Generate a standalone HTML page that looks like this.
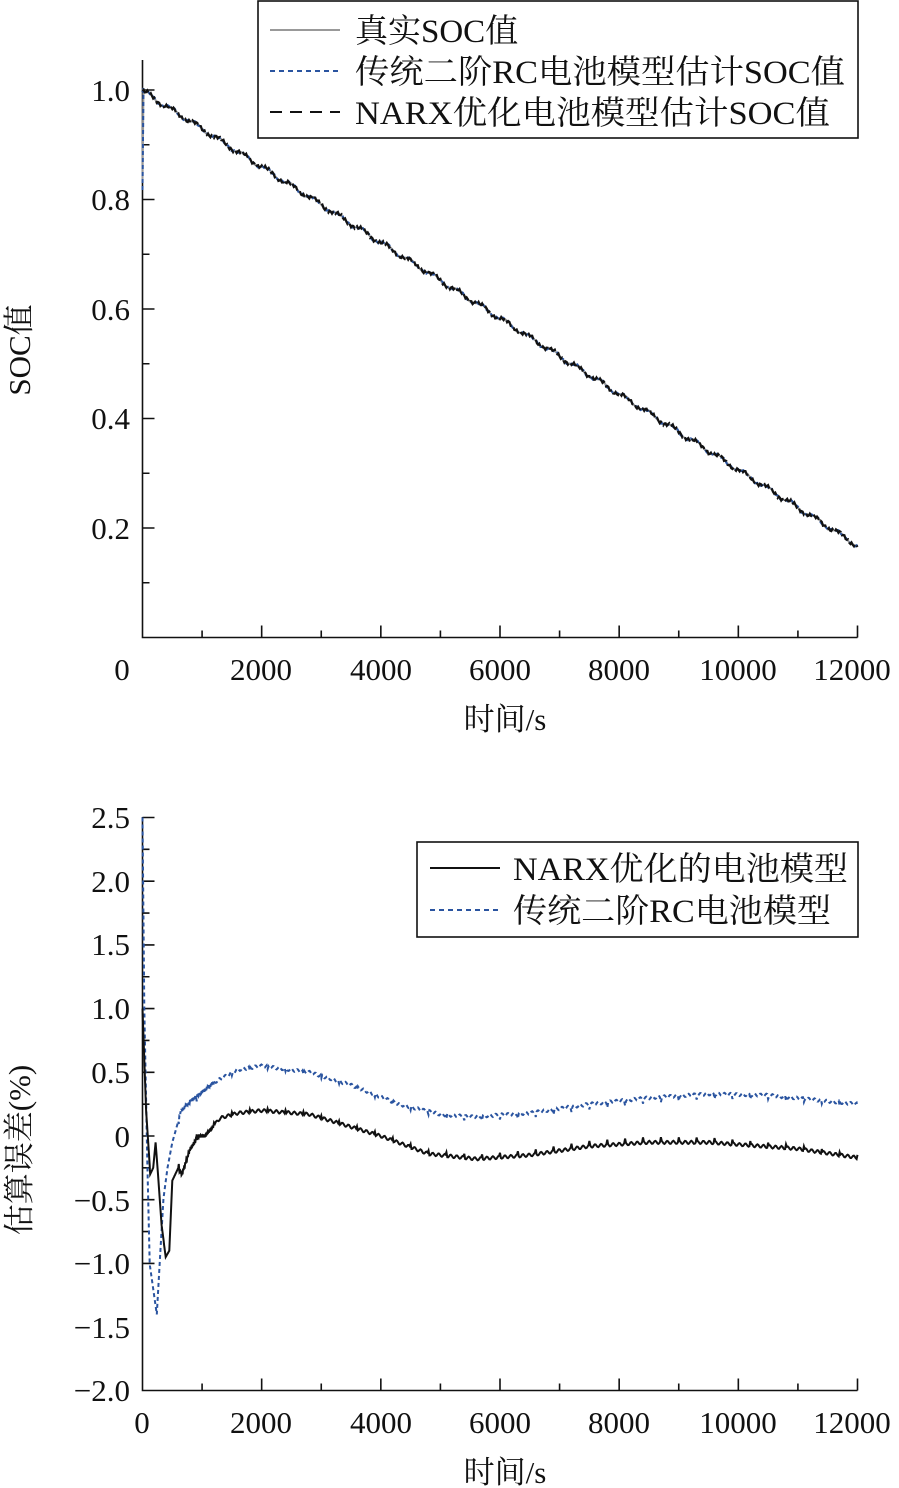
<!DOCTYPE html>
<html><head><meta charset="utf-8"><style>
html,body{margin:0;padding:0;background:#fff;}
svg{display:block;font-family:"Liberation Serif","Noto Serif CJK SC","Noto Sans CJK SC",serif;}
</style></head><body>
<svg id="s" width="899" height="1488" viewBox="0 0 899 1488" xmlns="http://www.w3.org/2000/svg">
<g font-size="31" fill="#111" text-anchor="end">
<text x="130" y="101">1.0</text><text x="130" y="210">0.8</text><text x="130" y="320">0.6</text><text x="130" y="429">0.4</text><text x="130" y="539">0.2</text>
<text x="130" y="828">2.5</text><text x="130" y="892">2.0</text><text x="130" y="955">1.5</text><text x="130" y="1019">1.0</text><text x="130" y="1083">0.5</text><text x="130" y="1147">0</text><text x="130" y="1274">−1.0</text><text x="130" y="1211">−0.5</text><text x="130" y="1338">−1.5</text><text x="130" y="1401">−2.0</text>
</g>
<g font-size="31" fill="#111" text-anchor="middle">
<text x="122" y="680">0</text><text x="261" y="680">2000</text><text x="381" y="680">4000</text><text x="500" y="680">6000</text><text x="619" y="680">8000</text><text x="738" y="680">10000</text><text x="852" y="680">12000</text>
<text x="505" y="730">时间/s</text>
<text x="142" y="1433">0</text><text x="261" y="1433">2000</text><text x="381" y="1433">4000</text><text x="500" y="1433">6000</text><text x="619" y="1433">8000</text><text x="738" y="1433">10000</text><text x="852" y="1433">12000</text>
<text x="505" y="1483">时间/s</text>
<text transform="translate(30,350) rotate(-90)">SOC值</text>
<text transform="translate(30,1150) rotate(-90)">估算误差(%)</text>
</g>
<g id="axes" stroke="#111" stroke-width="1.6" fill="none"></g>
<g id="curves" fill="none"></g>
<g>
<rect x="258" y="1" width="600" height="137" fill="#fff" stroke="#111" stroke-width="1.6"/>
<line x1="270" y1="30" x2="340" y2="30" stroke="#999" stroke-width="2"/>
<line x1="270" y1="71" x2="340" y2="71" stroke="#2a54a0" stroke-width="2" stroke-dasharray="5,4"/>
<line x1="270" y1="112" x2="340" y2="112" stroke="#111" stroke-width="2" stroke-dasharray="12,8"/>
<g font-size="33" fill="#111"><text x="355" y="42">真实SOC值</text><text x="355" y="83" textLength="490" lengthAdjust="spacingAndGlyphs">传统二阶RC电池模型估计SOC值</text><text x="355" y="124" textLength="475" lengthAdjust="spacingAndGlyphs">NARX优化电池模型估计SOC值</text></g>
<rect x="417" y="842" width="441" height="95" fill="#fff" stroke="#111" stroke-width="1.6"/>
<line x1="430" y1="868" x2="500" y2="868" stroke="#111" stroke-width="2"/>
<line x1="430" y1="910" x2="500" y2="910" stroke="#2a54a0" stroke-width="2" stroke-dasharray="5,4"/>
<g font-size="33" fill="#111"><text x="513" y="880" textLength="335" lengthAdjust="spacingAndGlyphs">NARX优化的电池模型</text><text x="513" y="922" textLength="318" lengthAdjust="spacingAndGlyphs">传统二阶RC电池模型</text></g>
</g>
</svg>
<script>
var X=function(t){return 142.5+t*715/12000;};
var ax=document.getElementById('axes'),cv=document.getElementById('curves');
function P(d,attrs,par){var e=document.createElementNS('http://www.w3.org/2000/svg','path');e.setAttribute('d',d);for(var k in attrs)e.setAttribute(k,attrs[k]);(par||cv).appendChild(e);}
var d='';
d+='M142.5,60V637.5H857.5';
for(var i=0;i<=12;i++){var x=X(i*1000),L=i%2?7:12;d+='M'+x+',637.5V'+(637.5-L);}
for(var v=0.1;v<=1.05;v+=0.1){var y=90+(1-v)*547.5,L=(Math.round(v*10)%2)?7:12;d+='M142.5,'+y+'H'+(142.5+L);}
d+='M142.5,817V1390.5H857.5';
for(var i=0;i<=12;i++){var x=X(i*1000),L=i%2?7:12;d+='M'+x+',1390.5V'+(1390.5-L);}
for(var k=-4;k<=10;k++){var v=k*0.25,y=1136-v*127.4,L=(k%2)?7:12;d+='M142.5,'+y+'H'+(142.5+L);}
P(d,{},ax);
function soc(t){var base=1-0.83*t/12000;var ph=(t%400)/400;return base+0.004*Math.sin(ph*2*Math.PI)-0.002;}
var g='',b='',k2='';
for(var t=0;t<=12000;t+=20){var y=90+(1-soc(t))*547.5;var x=X(t);
 g+=(t?'L':'M')+x.toFixed(1)+','+y.toFixed(1);
 b+=(t?'L':'M')+x.toFixed(1)+','+(y+Math.sin(t*0.37)*1.2).toFixed(1);
 k2+=(t?'L':'M')+x.toFixed(1)+','+(y+Math.sin(t*0.53)*1.5).toFixed(1);}
g='M142.5,180L143.5,88'+g.replace('M','L');
P(g,{stroke:'#999','stroke-width':2});
P('M142.5,190L143.5,88'+b.replace('M','L'),{stroke:'#2a54a0','stroke-width':2,'stroke-dasharray':'4,3'});
P(k2,{stroke:'#111','stroke-width':2.2,'stroke-dasharray':'10,3'});
function interp(pts,t){for(var i=1;i<pts.length;i++){if(t<=pts[i][0]){var a=pts[i-1],c=pts[i];return a[1]+(c[1]-a[1])*(t-a[0])/(c[0]-a[0]);}}return pts[pts.length-1][1];}
var blk=[[0,1.0],[60,0.2],[130,-0.3],[180,-0.25],[220,-0.05],[260,-0.3],[320,-0.7],[390,-0.95],[450,-0.9],[500,-0.35],[600,-0.25],[660,-0.3],[800,-0.1],[950,0],[1050,0],[1300,0.14],[1600,0.18],[2000,0.2],[2800,0.17],[3300,0.1],[4000,0],[4800,-0.14],[5600,-0.18],[6500,-0.15],[7500,-0.08],[8500,-0.05],[9500,-0.05],[11000,-0.1],[12000,-0.17]];
var blu=[[0,2.5],[30,1.0],[80,-0.2],[120,-1.0],[180,-1.2],[240,-1.4],[300,-0.9],[350,-0.5],[420,-0.25],[500,-0.05],[650,0.2],[800,0.27],[1200,0.42],[1600,0.52],[2000,0.55],[2800,0.5],[3500,0.4],[4300,0.25],[5000,0.17],[5500,0.15],[6500,0.18],[7500,0.25],[8500,0.3],[9500,0.33],[10500,0.32],[12000,0.25]];
var pb='',pu='';
for(var t=0;t<=12000;t+=(t<1200?5:15)){var n=t>600?(Math.sin(t*0.9)*0.012+((t%300)<15?0.03:0)):0;
 var x=X(t).toFixed(1);
 pb+=(t?'L':'M')+x+','+(1136-(interp(blk,t)+n)*127.4).toFixed(1);
 pu+=(t?'L':'M')+x+','+(1136-(interp(blu,t)-n)*127.4).toFixed(1);}
P(pu,{stroke:'#2a54a0','stroke-width':2,'stroke-dasharray':'4,3'});
P(pb,{stroke:'#111','stroke-width':2});
</script>
</body></html>
